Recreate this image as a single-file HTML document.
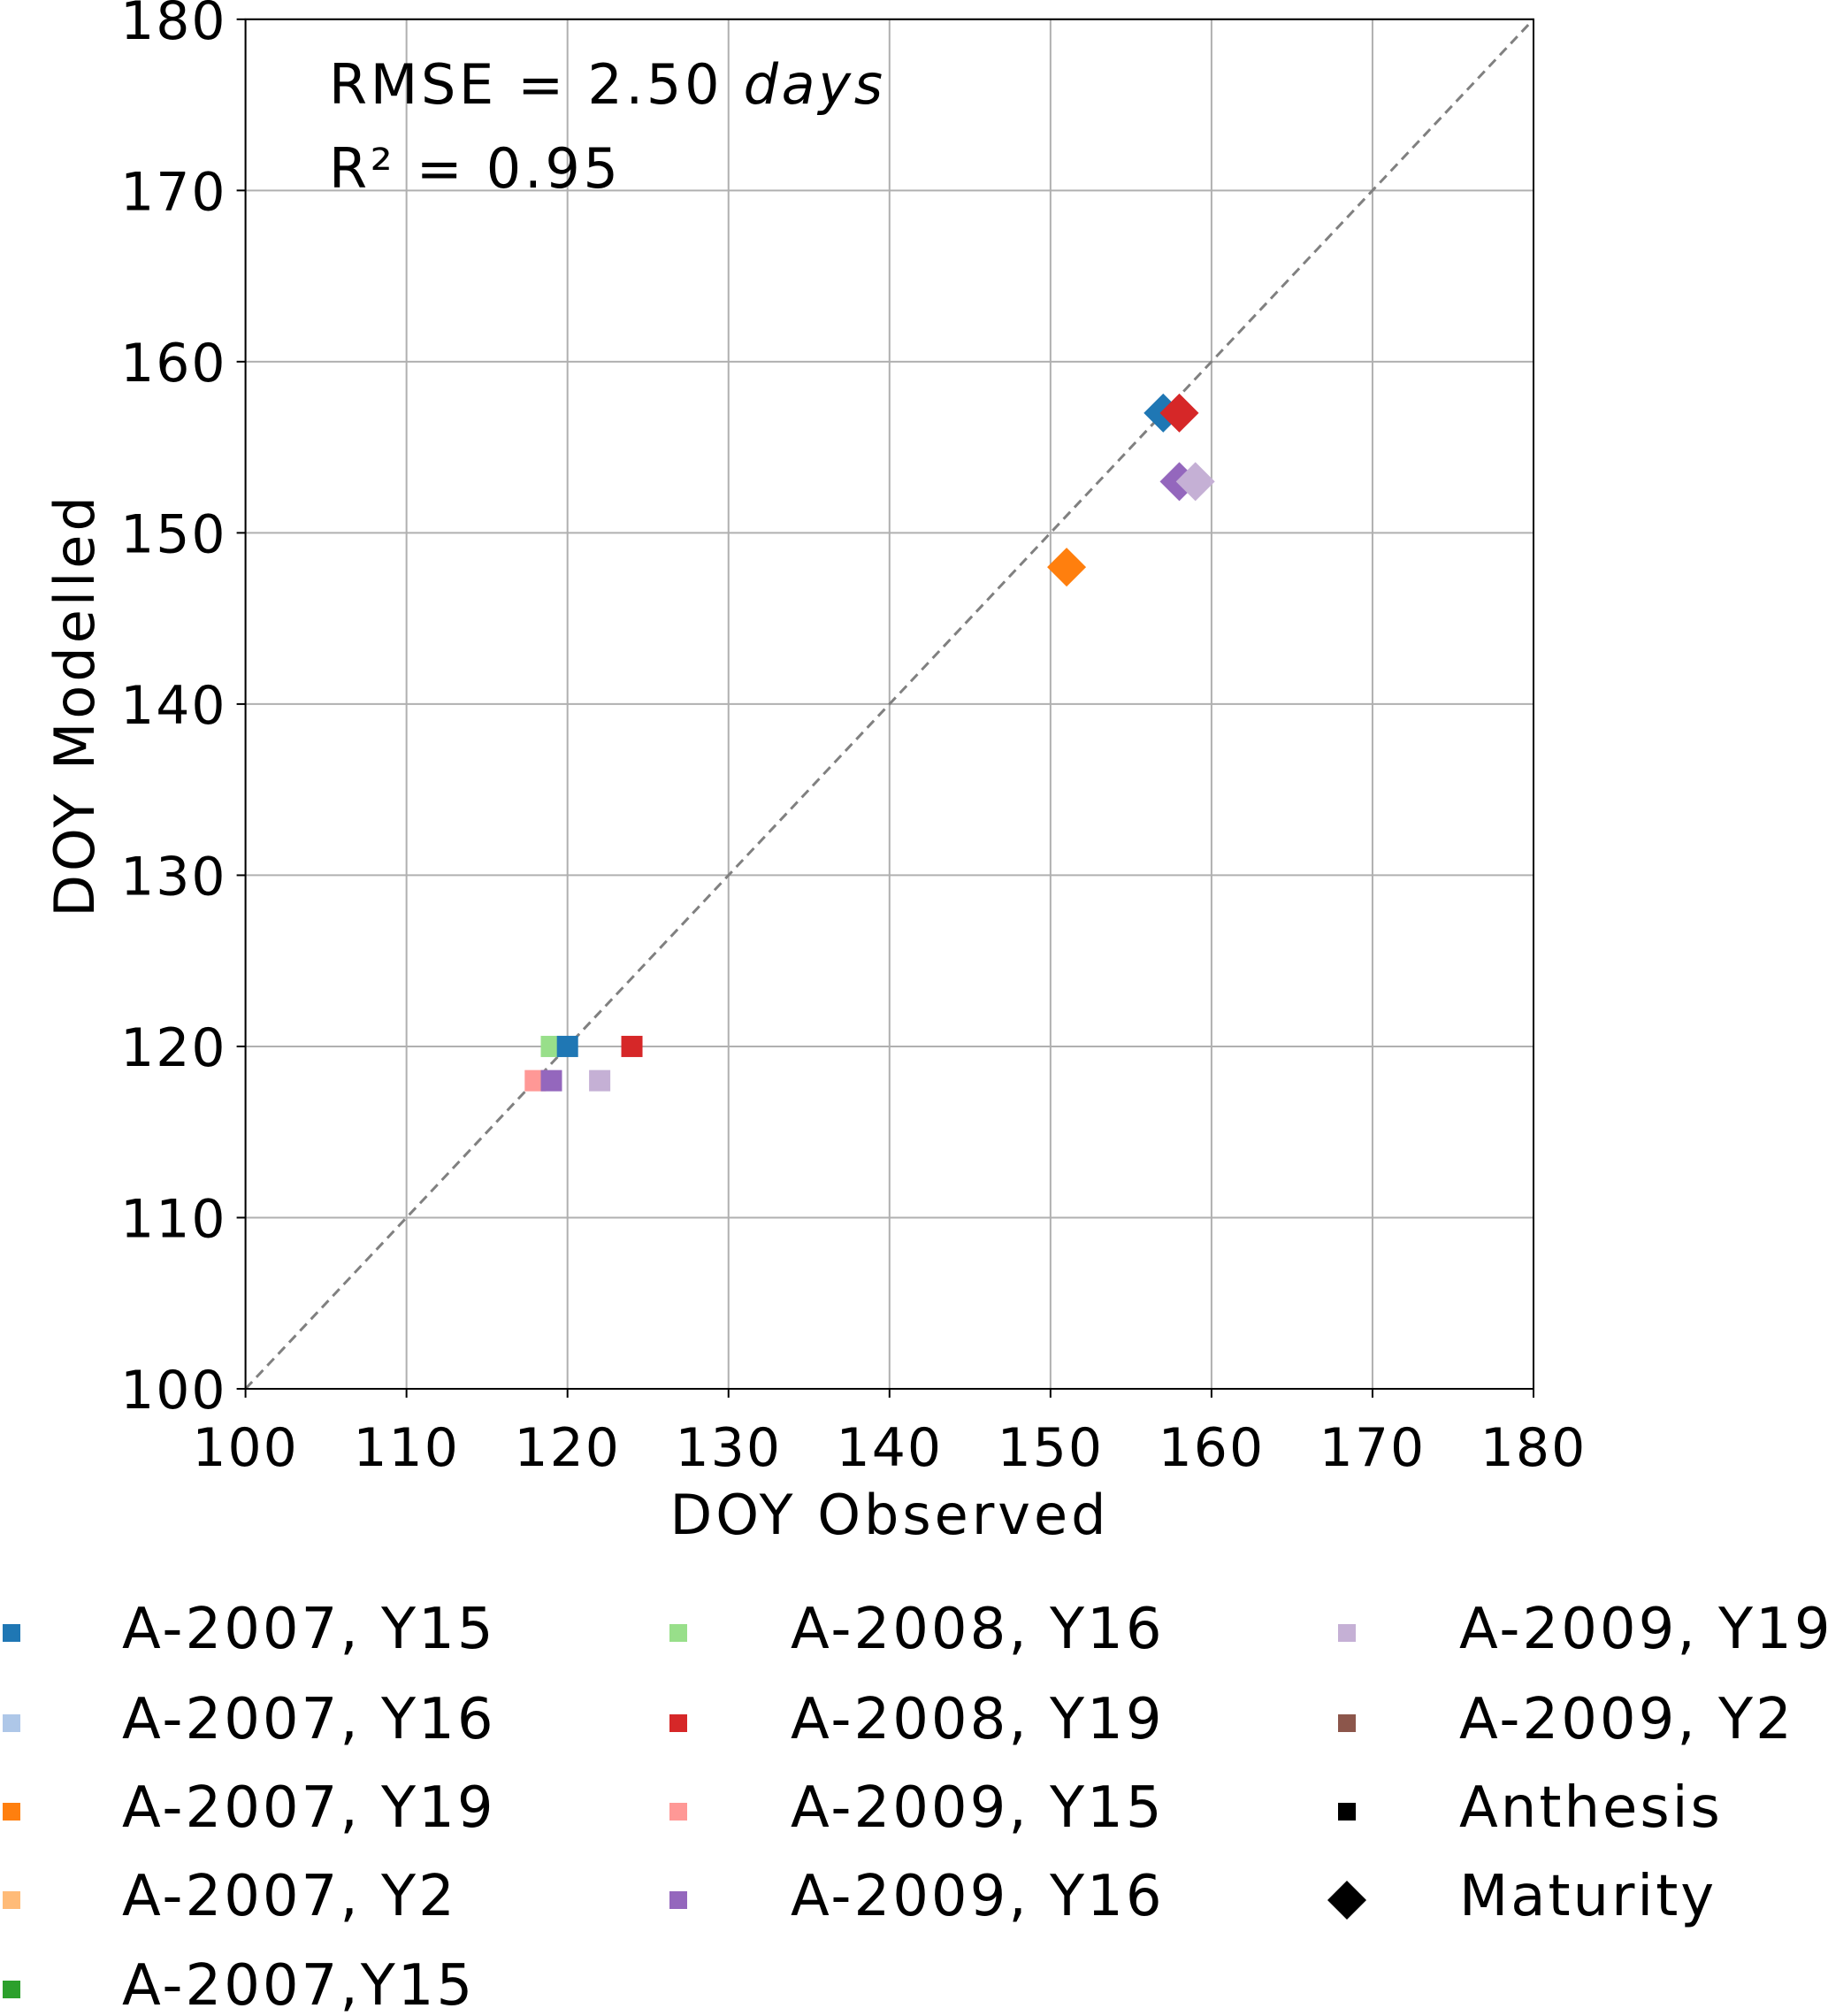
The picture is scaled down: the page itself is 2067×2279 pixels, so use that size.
<!DOCTYPE html>
<html><head><meta charset="utf-8"><style>
body{margin:0;background:#fff}
svg{display:block;font-family:"DejaVu Sans","Liberation Sans",sans-serif}
</style></head><body>
<svg id="chart" width="2067" height="2279" viewBox="0 0 2067 2279" xmlns="http://www.w3.org/2000/svg">
<g id="grid"></g>
<line id="diag" stroke="#808080" stroke-width="3" stroke-dasharray="11,7"/>
<g id="marks"></g>
<rect id="frame" fill="none" stroke="#000" stroke-width="2"/>
<g id="ticks" font-size="60" letter-spacing="2" fill="#000"></g>
<text x="372" y="117" font-size="62" letter-spacing="3.7">RMSE = 2.50 <tspan font-style="italic">days</tspan></text>
<text x="372" y="212" font-size="62" letter-spacing="3.7">R² = 0.95</text>
<text x="1006" y="1734" font-size="62" letter-spacing="4" text-anchor="middle">DOY Observed</text>
<text transform="translate(106,797) rotate(-90)" font-size="62" letter-spacing="4" text-anchor="middle">DOY Modelled</text>
<g id="legend" font-size="64" letter-spacing="3"></g>
</svg>
<script>
const ticks = [100,110,120,130,140,150,160,170,180];
const anthX = [119,120,124,118,119,122];
const anthY = [120,120,120,118,118,118];
const anthC = ['#98df8a','#1f77b4','#d62728','#ff9896','#9467bd','#c5b0d5'];
const matX = [157,158,158,159,151];
const matY = [157,157,153,153,148];
const matC = ['#1f77b4','#d62728','#9467bd','#c5b0d5','#ff7f0e'];
const legLabels = ['A-2007, Y15','A-2007, Y16','A-2007, Y19','A-2007, Y2','A-2007,Y15','A-2008, Y16','A-2008, Y19','A-2009, Y15','A-2009, Y16','A-2009, Y19','A-2009, Y2','Anthesis','Maturity'];
const legColors = ['#1f77b4','#aec7e8','#ff7f0e','#ffbb78','#2ca02c','#98df8a','#d62728','#ff9896','#9467bd','#c5b0d5','#8c564b','#000','#000'];

const X0=277.6,X1=1734,Y0=1570,Y1=21.8,MIN=100,MAX=180;
const sx=v=>X0+(v-MIN)/(MAX-MIN)*(X1-X0);
const sy=v=>Y0-(v-MIN)/(MAX-MIN)*(Y0-Y1);
const NS='http://www.w3.org/2000/svg';
function mk(tag,attrs,parent){const e=document.createElementNS(NS,tag);for(const k in attrs)e.setAttribute(k,attrs[k]);parent.appendChild(e);return e;}
const grid=document.getElementById('grid'),tk=document.getElementById('ticks'),marks=document.getElementById('marks'),leg=document.getElementById('legend');
const fr=document.getElementById('frame');
fr.setAttribute('x',X0);fr.setAttribute('y',Y1);fr.setAttribute('width',X1-X0);fr.setAttribute('height',Y0-Y1);
const dg=document.getElementById('diag');
dg.setAttribute('x1',sx(100));dg.setAttribute('y1',sy(100));dg.setAttribute('x2',sx(180));dg.setAttribute('y2',sy(180));
ticks.forEach(t=>{
  let g=mk('line',{x1:sx(t),x2:sx(t),y1:Y1,y2:Y0,stroke:'#b0b0b0','stroke-width':2},grid);
  
  
  g=mk('line',{x1:X0,x2:X1,y1:sy(t),y2:sy(t),stroke:'#b0b0b0','stroke-width':2},grid);
  
  
  let l=mk('line',{x1:sx(t),x2:sx(t),y1:Y0,y2:Y0+10,stroke:'#000','stroke-width':2},tk);
  
  
  l=mk('line',{x1:X0-10,x2:X0,y1:sy(t),y2:sy(t),stroke:'#000','stroke-width':2},tk);
  
  
  let tx=mk('text',{x:sx(t),y:Y0+87,'text-anchor':'middle'},tk);tx.textContent=t;
  
  
  tx=mk('text',{x:X0-21,y:sy(t)+22,'text-anchor':'end'},tk);tx.textContent=t;
  
  
});
const S=24;
anthX.forEach((x,i)=>{
  const r=mk('rect',{x:sx(x)-S/2,y:sy(anthY[i])-S/2,width:S,height:S,fill:anthC[i]},marks);
  
  
});
const D=22;
matX.forEach((x,i)=>{
  const cx=sx(x),cy=sy(matY[i]);
  const p=mk('polygon',{points:`${cx},${cy-D} ${cx+D},${cy} ${cx},${cy+D} ${cx-D},${cy}`,fill:matC[i]},marks);
  
  
});
const colMX=[13,767,1523],colTX=[138,894,1650],rowY=[1846,1948,2048,2148,2249];
legLabels.forEach((lab,i)=>{
  let c,r;
  if(i<5){c=0;r=i;}else if(i<9){c=1;r=i-5;}else{c=2;r=i-9;}
  const mx=colMX[c],my=rowY[r];
  let m;
  if(lab==='Maturity'){m=mk('polygon',{points:`${mx},${my-22} ${mx+22},${my} ${mx},${my+22} ${mx-22},${my}`,fill:legColors[i]},leg);}
  else m=mk('rect',{x:mx-10,y:my-10,width:20,height:20,fill:legColors[i]},leg);
  
  
  const t=mk('text',{x:colTX[c],y:my+17},leg);t.textContent=lab;
  
  
});
</script>
</body></html>
